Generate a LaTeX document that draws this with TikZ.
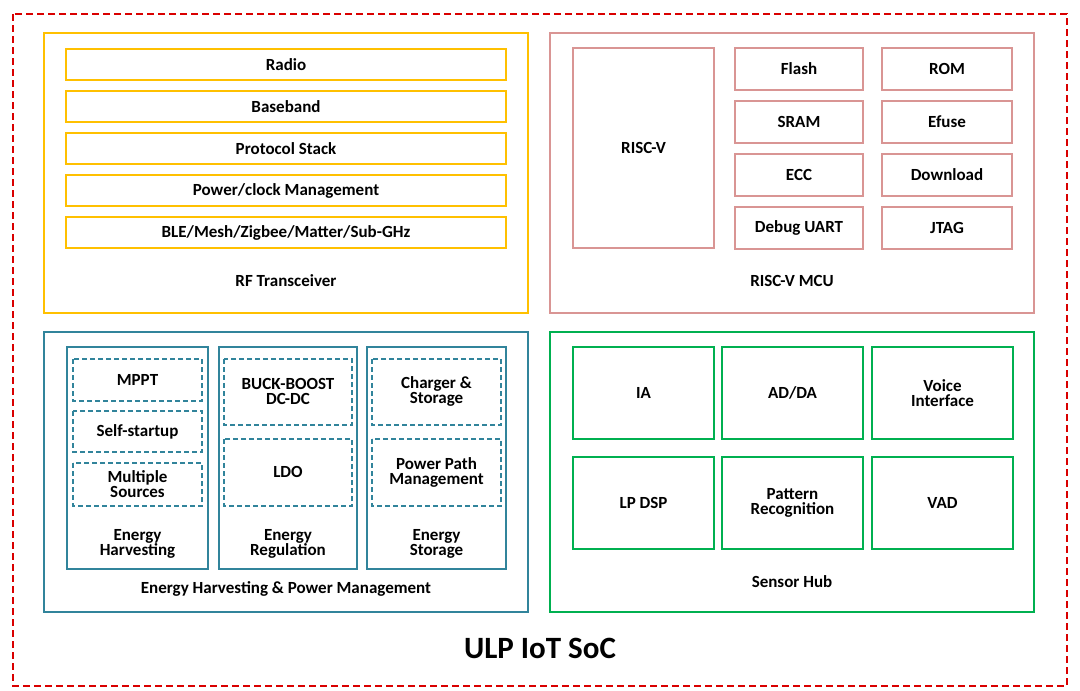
\documentclass[tikz,border=0pt]{standalone}
\usepackage{fontspec}
\setmainfont{Carlito}
\begin{document}
\begin{tikzpicture}[x=1pt,y=-1pt,
 t/.style={font=\bfseries\fontsize{17}{18}\selectfont,align=center},
 rf/.style={draw=rfc,line width=2.6pt},
 mc/.style={draw=mcc,line width=2.2pt},
 eh/.style={draw=ehc,line width=2.4pt},
 ehd/.style={draw=ehc,line width=2.2pt,dash pattern=on 5pt off 3pt},
 sh/.style={draw=shc,line width=2.4pt}]
\definecolor{rfc}{HTML}{FFC000}
\definecolor{mcc}{HTML}{D99594}
\definecolor{ehc}{HTML}{31849B}
\definecolor{shc}{HTML}{00B050}
\useasboundingbox (0,0) rectangle (1080,691);
\draw[red!85!black,line width=1.3pt,dash pattern=on 7pt off 4pt] (13,14) rectangle (1067,686);
\node[font=\bfseries\fontsize{31}{34}\selectfont] (title) at (540,648) {ULP IoT SoC};
% RF
\draw[rf] (44,33) rectangle (528,313);
\foreach \y/\s [count=\i] in {49/Radio,91/Baseband,133/Protocol Stack,175/Power\slash clock Management,217/BLE\slash Mesh\slash Zigbee\slash Matter\slash Sub-GHz}{
 \draw[rf] (66,\y) rectangle (506,\y+31);
 \node[t] (rf\i) at (286,\y+15.5) {\s};}
\node[t] (rfl) at (286,281) {RF Transceiver};
% MCU
\draw[mc] (550,33) rectangle (1034,313);
\draw[mc] (573,48) rectangle (714,248);
\node[t] (risc) at (643.5,148) {RISC-V};
\foreach \y/\a/\b [count=\i] in {48/Flash/ROM,101/SRAM/Efuse,154/ECC/Download,207/Debug UART/JTAG}{
 \draw[mc] (735,\y) rectangle (863,\y+42);
 \draw[mc] (882,\y) rectangle (1012,\y+42);
 \node[t] (ma\i) at (799,\y+21) {\a};
 \node[t] (mb\i) at (947,\y+21) {\b};}
\node[t] (mcl) at (792,281) {RISC-V MCU};
% EH
\draw[eh] (44,332) rectangle (528,612);
\draw[eh] (67,347) rectangle (208,569);
\draw[eh] (219,347) rectangle (357,569);
\draw[eh] (367,347) rectangle (506,569);
\draw[ehd] (73,359) rectangle (202,401); \node[t] (e1) at (137.5,380) {MPPT};
\draw[ehd] (73,411) rectangle (202,452); \node[t] (e2) at (137.5,431.5) {Self-startup};
\draw[ehd] (73,463) rectangle (202,506); \node[t] (e3) at (137.5,484.5) {Multiple\\[-3pt]Sources};
\draw[ehd] (224,359) rectangle (352,425); \node[t] (e4) at (288,391) {BUCK-BOOST\\[-3pt]DC-DC};
\draw[ehd] (224,439) rectangle (352,506); \node[t] (e5) at (288,472) {LDO};
\draw[ehd] (372,359) rectangle (501,425); \node[t] (e6) at (436.5,391) {Charger \&\\[-3pt]Storage};
\draw[ehd] (372,439) rectangle (501,506); \node[t] (e7) at (436.5,472) {Power Path\\[-3pt]Management};
\node[t] (l1) at (137.5,544) {Energy\\[-3pt]Harvesting};
\node[t] (l2) at (288,544) {Energy\\[-3pt]Regulation};
\node[t] (l3) at (436.5,544) {Energy\\[-3pt]Storage};
\node[t] (ehl) at (286,589) {Energy Harvesting \& Power Management};
% Sensor hub
\draw[sh] (550,332) rectangle (1034,612);
\foreach \x/\y/\s [count=\i] in {573/347/IA,722/347/AD\slash DA,872/347/{Voice\\[-3pt]Interface},573/457/LP DSP,722/457/{Pattern\\[-3pt]Recognition},872/457/VAD}{
 \draw[sh] (\x,\y) rectangle (\x+141,\y+92);
 \node[t] (s\i) at (\x+70.5,\y+46) {\s};}
\node[t] (shl) at (792,582) {Sensor Hub};
\end{tikzpicture}
\end{document}
